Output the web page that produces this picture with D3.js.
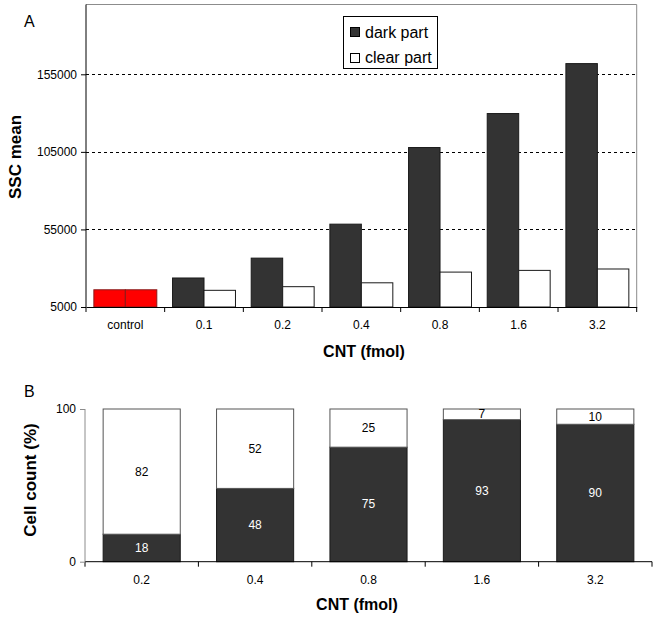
<!DOCTYPE html>
<html><head><meta charset="utf-8">
<script src="https://cdn.jsdelivr.net/npm/d3@7"></script>
<style>body{margin:0;background:#fff}svg{display:block;font-family:"Liberation Sans",Arial,sans-serif}</style>
</head><body><svg id="c" width="660" height="617"></svg>
<script>
// Panel A data
const catsA = ["control","0.1","0.2","0.4","0.8","1.6","3.2"];
const darkA = [16100, 23700, 36500, 58400, 107800, 129700, 161900];
const clearA = [16100, 15750, 18100, 20600, 27500, 28600, 29500];
const ticksA = [5000, 55000, 105000, 155000];
// Panel B data
const catsB = ["0.2","0.4","0.8","1.6","3.2"];
const darkB = [18, 48, 75, 93, 90];
const clearB = [82, 52, 25, 7, 10];
const ticksB = [0, 100];

const svg = d3.select("#c");
const DARK = "#333333";

// ---------- Panel A ----------
const xA = d3.scaleBand().domain(catsA).range([86, 636.7]).padding(0);
const yA = d3.scaleLinear().domain([5000, 200000]).range([307, 4.5]);
const gw = xA.bandwidth() * 0.8;
const sub = d3.scaleBand().domain(["dark","clear"]).range([0, gw]);

// frame (top/right gray)
svg.append("path").attr("d", `M${xA.range()[0]},${yA(200000)}H${xA.range()[1]}V${yA(5000)}`)
  .attr("fill","none").attr("stroke","#8c8c8c").attr("stroke-width",1);
// gridlines
svg.append("g").selectAll("line").data(ticksA.slice(1)).join("line")
  .attr("x1",86).attr("x2",636.7).attr("y1",d=>Math.round(yA(d))+0.5).attr("y2",d=>Math.round(yA(d))+0.5)
  .attr("stroke","#000").attr("stroke-dasharray","3,3");

const gA = svg.append("g");
catsA.forEach((c,i)=>{
  const x0 = xA(c) + (xA.bandwidth()-gw)/2;
  const isCtrl = i===0;
  gA.append("rect").attr("x",x0+sub("dark")).attr("y",yA(darkA[i])).attr("width",sub.bandwidth()).attr("height",yA(5000)-yA(darkA[i]))
    .attr("fill",isCtrl?"#ff0000":DARK).attr("stroke",isCtrl?"#8b1a1a":"#1a1a1a").attr("stroke-width",1);
  gA.append("rect").attr("x",x0+sub("clear")).attr("y",yA(clearA[i])).attr("width",sub.bandwidth()).attr("height",yA(5000)-yA(clearA[i]))
    .attr("fill",isCtrl?"#ff0000":"#fff").attr("stroke",isCtrl?"#8b1a1a":"#1a1a1a").attr("stroke-width",1);
});

// axes A
const axA = svg.append("g").attr("transform",`translate(0,${yA(5000)})`)
  .call(d3.axisBottom(xA).tickSize(0).tickPadding(13));
axA.select(".domain").attr("stroke","#000");
axA.selectAll("text").attr("font-size",12).attr("fill","#000").attr("font-family","Liberation Sans, Arial, sans-serif");
// category separator ticks
svg.append("g").selectAll("line").data(d3.range(catsA.length+1)).join("line")
  .attr("x1",i=>86+i*xA.step()).attr("x2",i=>86+i*xA.step()).attr("y1",yA(5000)).attr("y2",yA(5000)+5).attr("stroke","#000");
const ayA = svg.append("g").attr("transform","translate(86,0)")
  .call(d3.axisLeft(yA).tickValues(ticksA).tickSize(5).tickPadding(4).tickFormat(d3.format("d")));
ayA.select(".domain").attr("d",`M0,${yA(200000)}V${yA(5000)}`).attr("stroke","#000");
ayA.selectAll("text").attr("font-size",12).attr("fill","#000").attr("font-family","Liberation Sans, Arial, sans-serif");

svg.append("text").attr("x",24).attr("y",27).attr("font-size",16).text("A");
svg.append("text").attr("transform","translate(21,157) rotate(-90)").attr("text-anchor","middle")
  .attr("font-size",17).attr("font-weight","bold").text("SSC mean");
svg.append("text").attr("x",364).attr("y",357).attr("text-anchor","middle")
  .attr("font-size",16).attr("font-weight","bold").text("CNT (fmol)");

// legend
const lg = svg.append("g");
lg.append("rect").attr("x",343.5).attr("y",16.5).attr("width",94).attr("height",52).attr("fill","#fff").attr("stroke","#000");
lg.append("rect").attr("x",350.5).attr("y",27.5).attr("width",9).attr("height",9).attr("fill",DARK).attr("stroke","#000");
lg.append("rect").attr("x",350.5).attr("y",53.5).attr("width",9).attr("height",9).attr("fill","#fff").attr("stroke","#000");
lg.append("text").attr("x",365).attr("y",38).attr("font-size",16).text("dark part");
lg.append("text").attr("x",365).attr("y",63).attr("font-size",16).text("clear part");

// ---------- Panel B ----------
const xB = d3.scaleBand().domain(catsB).range([85, 652]).paddingInner(0.32).paddingOuter(0.16);
const yB = d3.scaleLinear().domain([0,100]).range([561.7, 409]);

const gB = svg.append("g");
catsB.forEach((c,i)=>{
  const x = xB(c), w = xB.bandwidth();
  gB.append("rect").attr("x",x).attr("y",yB(darkB[i])).attr("width",w).attr("height",yB(0)-yB(darkB[i]))
    .attr("fill",DARK).attr("stroke","#1a1a1a");
  gB.append("rect").attr("x",x).attr("y",yB(darkB[i]+clearB[i])).attr("width",w).attr("height",yB(darkB[i])-yB(darkB[i]+clearB[i]))
    .attr("fill","#fff").attr("stroke","#555");
  gB.append("text").attr("x",x+w/2).attr("y",(yB(0)+yB(darkB[i]))/2+4).attr("text-anchor","middle")
    .attr("font-size",12).attr("fill","#fff").text(darkB[i]);
  gB.append("text").attr("x",x+w/2).attr("y",(yB(darkB[i])+yB(100))/2+4).attr("text-anchor","middle")
    .attr("font-size",12).attr("fill","#000").text(clearB[i]);
});

const axB = svg.append("g").attr("transform",`translate(0,${yB(0)})`)
  .call(d3.axisBottom(xB).tickSize(0).tickPadding(14));
axB.select(".domain").attr("d","M85,0H652").attr("stroke","#000");
axB.selectAll("text").attr("font-size",12).attr("fill","#000").attr("font-family","Liberation Sans, Arial, sans-serif");
svg.append("g").selectAll("line").data(d3.range(catsB.length+1)).join("line")
  .attr("x1",i=>85+i*xB.step()).attr("x2",i=>85+i*xB.step()).attr("y1",yB(0)).attr("y2",yB(0)+5).attr("stroke","#000");
const ayB = svg.append("g").attr("transform","translate(85,0)")
  .call(d3.axisLeft(yB).tickValues(ticksB).tickSize(5).tickPadding(4));
ayB.select(".domain").attr("d",`M0,${yB(100)}V${yB(0)}`).attr("stroke","#8c8c8c");
ayB.selectAll(".tick line").attr("stroke","#8c8c8c");
ayB.selectAll("text").attr("font-size",12).attr("fill","#000").attr("font-family","Liberation Sans, Arial, sans-serif");

svg.append("text").attr("x",24).attr("y",397).attr("font-size",16).text("B");
svg.append("text").attr("transform","translate(36,480) rotate(-90)").attr("text-anchor","middle")
  .attr("font-size",17).attr("font-weight","bold").text("Cell count (%)");
svg.append("text").attr("x",357).attr("y",610).attr("text-anchor","middle")
  .attr("font-size",16).attr("font-weight","bold").text("CNT (fmol)");
</script></body></html>
